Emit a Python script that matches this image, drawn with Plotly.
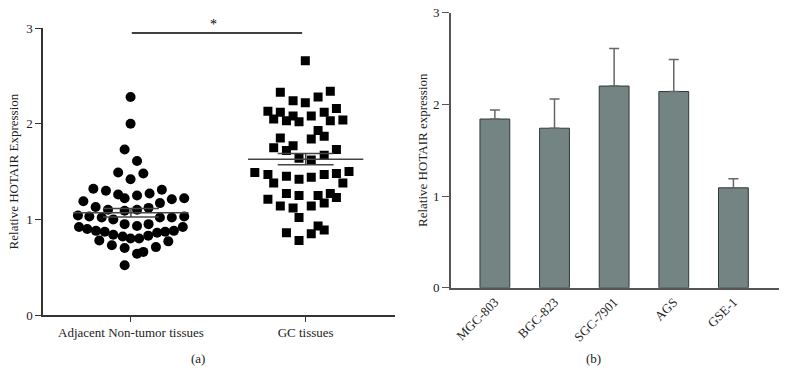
import plotly.graph_objects as go

# ---------- Panel (a) data ----------
groups = ["Adjacent Non-tumor tissues", "GC tissues"]

adj_x = [-0.002, -0.002, -0.036, 0.035, -0.073, 0.071, -0.002, -0.215, -0.143, 0.177,
         0.107, -0.073, 0.035, -0.036, -0.272, 0.234, 0.305, 0.166, -0.202, -0.131,
         -0.036, 0.035, 0.101, -0.303, -0.238, -0.167, -0.101, 0.166, 0.234, 0.305,
         -0.036, 0.035, 0.101, -0.297, -0.250, -0.200, -0.150, -0.101, -0.047, -0.002,
         0.047, 0.099, 0.150, 0.196, 0.246, 0.297, -0.181, -0.109, -0.036, 0.214,
         0.143, 0.035, 0.071, -0.036]
adj_y = [2.28, 2.00, 1.73, 1.61, 1.49, 1.48, 1.42, 1.32, 1.30, 1.31,
         1.27, 1.26, 1.25, 1.22, 1.19, 1.21, 1.22, 1.17, 1.13, 1.10,
         1.09, 1.10, 1.12, 1.04, 1.03, 1.02, 1.00, 1.02, 1.02, 1.03,
         0.95, 0.93, 0.95, 0.92, 0.90, 0.88, 0.87, 0.84, 0.82, 0.80,
         0.80, 0.83, 0.86, 0.87, 0.88, 0.92, 0.78, 0.73, 0.70, 0.77,
         0.71, 0.64, 0.66, 0.52]

gc_x = [-0.002, -0.145, 0.141, 0.071, -0.072, -0.002, -0.216, -0.145, 0.176, 0.106,
        -0.072, 0.032, -0.183, -0.110, -0.038, 0.141, 0.213, 0.071, 0.106, -0.145,
        0.032, -0.183, -0.072, -0.110, 0.176, 0.106, -0.038, 0.032, -0.291, -0.216,
        0.248, 0.176, 0.106, -0.110, -0.038, 0.032, -0.183, 0.213, -0.110, -0.038,
        0.071, 0.141, 0.176, -0.216, 0.106, -0.145, -0.072, 0.032, -0.038, 0.071,
        0.106, -0.110, 0.032, -0.038]
gc_y = [2.66, 2.33, 2.34, 2.28, 2.24, 2.22, 2.13, 2.12, 2.16, 2.12,
        2.08, 2.08, 2.05, 2.03, 2.02, 2.03, 2.04, 1.93, 1.87, 1.85,
        1.84, 1.75, 1.77, 1.72, 1.73, 1.67, 1.64, 1.62, 1.49, 1.47,
        1.50, 1.48, 1.47, 1.45, 1.42, 1.44, 1.38, 1.38, 1.27, 1.25,
        1.25, 1.27, 1.23, 1.21, 1.17, 1.14, 1.12, 1.14, 1.02, 0.93,
        0.89, 0.86, 0.85, 0.78]

means = [1.07, 1.63]
sems = [0.045, 0.06]

# ---------- Panel (b) data ----------
cell_lines = ["MGC-803", "BGC-823", "SGC-7901", "AGS", "GSE-1"]
bar_values = [1.84, 1.74, 2.20, 2.14, 1.09]
bar_errors = [0.10, 0.32, 0.41, 0.35, 0.10]

FONT = "Liberation Serif, Times New Roman, serif"
AX = "#333333"

fig = go.Figure()

# scatter points panel (a)
fig.add_trace(go.Scatter(
    x=[0 + v for v in adj_x], y=adj_y, mode="markers",
    marker=dict(symbol="circle", size=10, color="black"),
    xaxis="x", yaxis="y", showlegend=False, hoverinfo="y"))
fig.add_trace(go.Scatter(
    x=[1 + v for v in gc_x], y=gc_y, mode="markers",
    marker=dict(symbol="square", size=9, color="black"),
    xaxis="x", yaxis="y", showlegend=False, hoverinfo="y"))

shapes = []
for i, (m, s) in enumerate(zip(means, sems)):
    shapes.append(dict(type="line", xref="x", yref="y", x0=i - 0.33, x1=i + 0.33,
                       y0=m, y1=m, line=dict(color="#444444", width=1.5)))
    for yy in (m - s, m + s):
        shapes.append(dict(type="line", xref="x", yref="y", x0=i - 0.16, x1=i + 0.16,
                           y0=yy, y1=yy, line=dict(color="#444444", width=1.5)))
    shapes.append(dict(type="line", xref="x", yref="y", x0=i, x1=i,
                       y0=m - s, y1=m + s, line=dict(color="#444444", width=1.5)))

# significance bracket
shapes.append(dict(type="line", xref="x", yref="y", x0=0.005, x1=0.98, y0=2.95, y1=2.95,
                   line=dict(color="black", width=1.5)))

# bars panel (b)
fig.add_trace(go.Bar(
    x=cell_lines, y=bar_values, width=0.5,
    marker=dict(color="#738482", line=dict(color="#2e3a38", width=1)),
    error_y=dict(type="data", array=bar_errors, arrayminus=[0] * len(bar_errors),
                 symmetric=False, color="#666666", thickness=1.5, width=5),
    xaxis="x2", yaxis="y2", showlegend=False))

fig.update_layout(
    width=788, height=385,
    margin=dict(l=0, r=0, t=0, b=0),
    paper_bgcolor="white", plot_bgcolor="white",
    font=dict(family=FONT, size=13, color="#222222"),
    shapes=shapes,
    xaxis=dict(domain=[0.0546, 0.501], range=[-0.503, 1.51], automargin=False,
               tickmode="array", tickvals=[0, 1], ticktext=groups,
               showline=True, linecolor=AX, linewidth=1.5,
               ticks="outside", ticklen=5, tickcolor=AX,
               showgrid=False, zeroline=False, tickfont=dict(size=13)),
    yaxis=dict(domain=[0.1818, 0.927], range=[0, 3], automargin=False,
               tickvals=[0, 1, 2, 3], showline=True, linecolor=AX, linewidth=1.5,
               ticks="outside", ticklen=6, tickcolor=AX,
               showgrid=False, zeroline=False,
               title=dict(text="Relative HOTAIR Expression", font=dict(size=13), standoff=5)),
    xaxis2=dict(domain=[0.572, 0.989], range=[-0.74, 4.77], automargin=False,
                showline=True, linecolor="#555555", linewidth=1.5,
                ticks="", showgrid=False, zeroline=False,
                tickangle=-45, tickfont=dict(size=13), anchor="y2"),
    yaxis2=dict(domain=[0.2527, 0.967], range=[0, 3], anchor="x2", automargin=False,
                tickvals=[0, 1, 2, 3], showline=True, linecolor="#555555", linewidth=1.5,
                ticks="outside", ticklen=7, tickcolor="#555555",
                showgrid=False, zeroline=False,
                title=dict(text="Relative HOTAIR expression", font=dict(size=13), standoff=2)),
    annotations=[
        dict(text="*", x=213 / 788, y=1 - 24 / 385, xref="paper", yref="paper",
             xanchor="center", yanchor="middle",
             showarrow=False, font=dict(size=14, color="black")),
        dict(text="(a)", x=198 / 788, y=1 - 358 / 385, xref="paper", yref="paper",
             xanchor="center", yanchor="middle",
             showarrow=False, font=dict(size=13)),
        dict(text="(b)", x=593 / 788, y=1 - 358 / 385, xref="paper", yref="paper",
             xanchor="center", yanchor="middle",
             showarrow=False, font=dict(size=13)),
    ],
)

fig.write_html("out.html", config={"displayModeBar": False},
               post_script="document.body.style.margin='0';")
